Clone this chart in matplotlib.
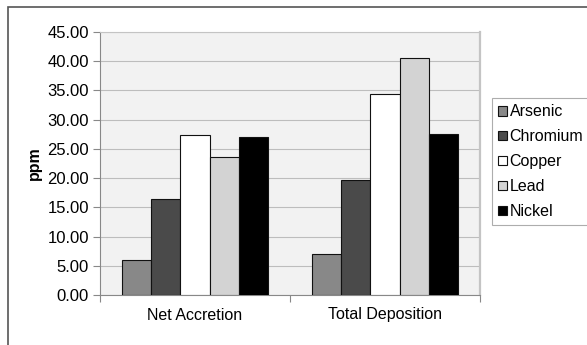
import matplotlib
matplotlib.use("Agg")
import matplotlib.pyplot as plt
from matplotlib.patches import Rectangle
import numpy as np

plt.rcParams['font.family'] = ['Liberation Sans', 'DejaVu Sans']

categories = ["Net Accretion", "Total Deposition"]
metals = ["Arsenic", "Chromium", "Copper", "Lead", "Nickel"]
arsenic = [6.0, 7.0]
chromium = [16.4, 19.6]
copper = [27.4, 34.4]
lead = [23.6, 40.5]
nickel = [27.0, 27.6]
y_ticks = [0, 5, 10, 15, 20, 25, 30, 35, 40, 45]

series = [arsenic, chromium, copper, lead, nickel]
colors = ["#888888", "#4a4a4a", "#ffffff", "#d3d3d3", "#000000"]

fig = plt.figure(figsize=(5.87, 3.45), dpi=100)
ax = fig.add_axes([100 / 587, 1 - 295 / 345, 380 / 587, 263 / 345])
ax.set_facecolor("#f2f2f2")

x = np.arange(len(categories))
bw = 0.153
for i, (vals, c, name) in enumerate(zip(series, colors, metals)):
    ax.bar(x + (i - 2) * bw, vals, width=bw, color=c, edgecolor="#111111",
           linewidth=0.8, label=name, zorder=3)

ax.set_xlim(-0.5, 1.5)
ax.set_ylim(0, 45)
ax.set_yticks(y_ticks)
ax.set_yticklabels([f"{v:.2f}" for v in y_ticks], fontsize=12)
ax.yaxis.grid(True, color="#bdbdbd", linewidth=0.8, zorder=0)
ax.set_xticks(x)
ax.set_xticklabels(categories, fontsize=11.5)
ax.tick_params(axis="x", length=0, pad=9)
ax.set_xticks([-0.5, 0.5, 1.5], minor=True)
ax.tick_params(axis="x", which="minor", length=5, color="#888888", width=0.8)
ax.tick_params(axis="y", length=5, color="#888888", width=0.8, pad=3)
for s in ["left", "bottom"]:
    ax.spines[s].set_color("#888888")
    ax.spines[s].set_linewidth(0.8)
ax.spines["top"].set_color("#c4c4c4")
ax.spines["top"].set_linewidth(0.8)
ax.spines["right"].set_color("#c4c4c4")
ax.spines["right"].set_linewidth(1.6)
ax.set_ylabel("ppm", fontsize=11.5, fontweight="bold", labelpad=4)

leg = ax.legend(loc="upper left", bbox_to_anchor=(492 / 587, 1 - 98 / 345),
                bbox_transform=fig.transFigure, fontsize=11.5, frameon=True,
                fancybox=False, edgecolor="#999999", handlelength=0.55,
                handleheight=0.55, handletextpad=0.15, labelspacing=0.62,
                borderpad=0.4, borderaxespad=0)
leg.get_frame().set_linewidth(0.8)

# outer chart frame (left and top edges visible)
fig.patches.append(Rectangle((7.5 / 587, -0.2), 2, 1.2 - 6.5 / 345,
                             transform=fig.transFigure, fill=False,
                             edgecolor="#555555", linewidth=1.2))

fig.savefig("out.png", dpi=100)
